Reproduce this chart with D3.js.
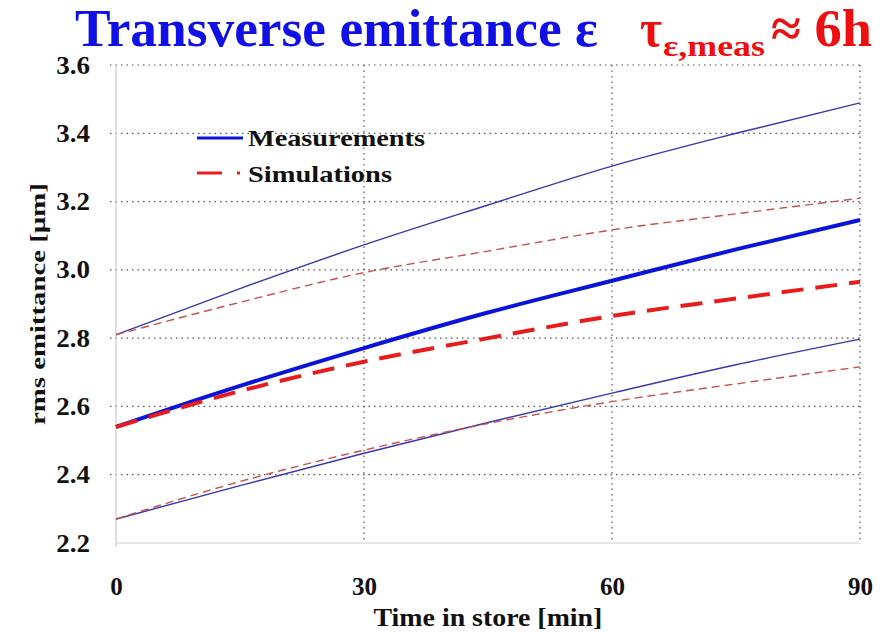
<!DOCTYPE html>
<html>
<head>
<meta charset="utf-8">
<script src="https://cdn.jsdelivr.net/npm/d3@7"></script>
<style>
  html, body { margin: 0; padding: 0; background: #fff; }
  svg { display: block; }
  text { font-family: "Liberation Serif", "Times New Roman", serif; font-weight: bold; }
</style>
</head>
<body>
<script>
// Storage time samples [min]
const times = [0, 15, 30, 45, 60, 75, 90];

// Measured rms emittance [µm]: mean and envelope
const measMean  = [2.54, 2.66, 2.771, 2.875, 2.968, 3.06, 3.146];
const measUpper = [2.81, 2.945, 3.073, 3.19, 3.304, 3.40, 3.489];
const measLower = [2.27, 2.368, 2.463, 2.553, 2.639, 2.722, 2.797];

// Simulated rms emittance [µm]: mean and envelope
const simMean  = [2.54, 2.645, 2.731, 2.80, 2.865, 2.916, 2.965];
const simUpper = [2.81, 2.905, 2.992, 3.055, 3.117, 3.164, 3.21];
const simLower = [2.27, 2.38, 2.472, 2.55, 2.614, 2.666, 2.716];

const xTicks = [0, 30, 60, 90];
const yTicks = [2.2, 2.4, 2.6, 2.8, 3.0, 3.2, 3.4, 3.6];

const W = 889, H = 633;
const margin = { left: 116, right: 29, top: 65, bottom: 90 };

const svg = d3.select("body").append("svg").attr("width", W).attr("height", H);

const x = d3.scaleLinear().domain([0, 90]).range([margin.left, W - margin.right]);
const y = d3.scaleLinear().domain([2.2, 3.6]).range([H - margin.bottom, margin.top]);

// Text stretched horizontally to a given width (anchor: 0 start, 0.5 middle, 1 end)
function label(parent, str, px, py, size, width, color, anchor = 0, rotate = 0) {
  const g = parent.append("g").attr("transform", `translate(${px},${py}) rotate(${rotate})`);
  const t = g.append("text").attr("font-size", size).attr("fill", color).text(str);
  const natural = t.node().getComputedTextLength();
  const sx = width / natural;
  t.attr("transform", `translate(${-anchor * width},0) scale(${sx},1)`);
  return t;
}

// Dotted grid
const grid = svg.append("g");
grid.selectAll("line.h").data(yTicks.filter(d => d > 2.2)).join("line")
  .attr("x1", x(0) - 6).attr("x2", x(90))
  .attr("y1", d => y(d)).attr("y2", d => y(d))
  .attr("stroke", "#555").attr("stroke-width", 1.2).attr("stroke-dasharray", "1.5,4");
grid.selectAll("line.v").data(xTicks.filter(d => d > 0)).join("line")
  .attr("x1", d => x(d)).attr("x2", d => x(d))
  .attr("y1", y(3.6)).attr("y2", y(2.2))
  .attr("stroke", "#555").attr("stroke-width", 1.2).attr("stroke-dasharray", "1.5,4");

// Light axis frame on left and bottom
svg.append("line").attr("x1", x(0)).attr("x2", x(0)).attr("y1", y(3.6)).attr("y2", y(2.2) + 4)
  .attr("stroke", "#ccc").attr("stroke-width", 1.2);
svg.append("line").attr("x1", x(0)).attr("x2", x(90)).attr("y1", y(2.2)).attr("y2", y(2.2))
  .attr("stroke", "#ccc").attr("stroke-width", 1.2);

// Tick labels through d3 axes (domain and tick marks hidden)
const ySx = 1.08;
const yAxis = svg.append("g").attr("transform", `translate(${x(0) - 23},0)`)
  .call(d3.axisLeft(y).tickValues(yTicks).tickFormat(d3.format(".1f")).tickSize(0));
yAxis.select(".domain").remove();
yAxis.selectAll("text").attr("font-size", 25).attr("fill", "#111")
  .style("font-family", "'Liberation Serif', serif").style("font-weight", "bold")
  .attr("transform", `scale(${ySx},1)`);
yAxis.selectAll(".tick").each(function () {
  const t = d3.select(this).select("text");
  t.attr("x", +t.attr("x") / ySx);
});

const xAxis = svg.append("g").attr("transform", `translate(0,${y(2.2) + 31})`)
  .call(d3.axisBottom(x).tickValues(xTicks).tickFormat(d3.format("d")).tickSize(0));
xAxis.select(".domain").remove();
xAxis.selectAll("text").attr("font-size", 25).attr("fill", "#111")
  .style("font-family", "'Liberation Serif', serif").style("font-weight", "bold");

label(svg, "Time in store [min]", 488, 626, 25, 229, "#111", 0.5);
label(svg, "rms emittance [µm]", 45, 304, 22, 242, "#111", 0.5, -90);

// Curves
const line = d3.line().x((d, i) => x(times[i])).y(d => y(d)).curve(d3.curveMonotoneX);

const series = [
  { v: measUpper, color: "#3838a8", width: 1.4, dash: null },
  { v: measLower, color: "#3838a8", width: 1.4, dash: null },
  { v: simUpper,  color: "#c85050", width: 1.4, dash: "8,5" },
  { v: simLower,  color: "#c85050", width: 1.4, dash: "8,5" },
  { v: measMean,  color: "#0a14d8", width: 4,   dash: null },
  { v: simMean,   color: "#e81c1c", width: 4,   dash: "22,12" }
];
svg.append("g").selectAll("path").data(series).join("path")
  .attr("d", d => line(d.v))
  .attr("fill", "none")
  .attr("stroke", d => d.color)
  .attr("stroke-width", d => d.width)
  .attr("stroke-dasharray", d => d.dash);

// Legend
const legend = svg.append("g");
legend.append("line").attr("x1", 197).attr("x2", 243).attr("y1", 138).attr("y2", 138)
  .attr("stroke", "#0a14d8").attr("stroke-width", 3);
label(legend, "Measurements", 248, 146, 24, 177, "#111");
legend.append("line").attr("x1", 197).attr("x2", 243).attr("y1", 173).attr("y2", 173)
  .attr("stroke", "#e81c1c").attr("stroke-width", 3).attr("stroke-dasharray", "25,15,3,20");
label(legend, "Simulations", 248, 182, 24, 144, "#111");

// Title
label(svg, "Transverse emittance ε", 75, 46, 52, 523, "#0f0fe6");
label(svg, "τ", 640, 46, 52, 22, "#ee1010");
label(svg, "ε,meas", 663, 56, 30, 102, "#ee1010");
label(svg, "≈ 6h", 771, 46, 52, 101, "#ee1010");
</script>
</body>
</html>
